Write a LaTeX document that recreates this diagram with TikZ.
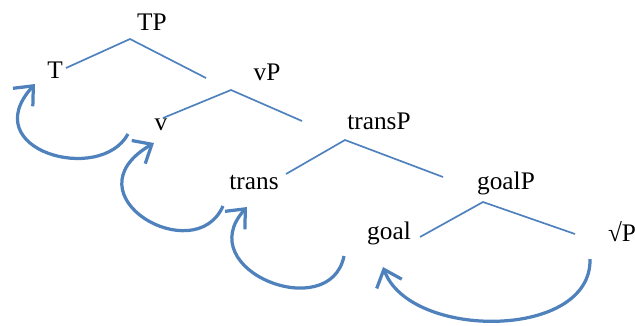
\documentclass[tikz,border=0pt]{standalone}
\usepackage{fontspec}
\setmainfont{Liberation Serif}
\usetikzlibrary{arrows.meta}
\definecolor{treeblue}{RGB}{79,129,189}

\begin{document}
\begin{tikzpicture}[x=0.025cm, y=-0.025cm, >={Straight Barb[length=11pt, width=19pt]},
  every node/.style={font=\fontsize{18}{21}\selectfont, inner sep=0pt},
  branch/.style={color=treeblue, line width=1.2pt},
  move/.style={->, color=treeblue, line width=2.3pt}]

\useasboundingbox (0,0) rectangle (635,325);

% Labels of the tree
\node (TP) at (152,22) {TP};
\node (T) at (55,70) {T};
\node (vP) at (267,72) {vP};
\node (v) at (161,125) {v};
\node (transP) at (379,121) {transP};
\node (trans) at (254,182) {trans};
\node (goalP) at (506,183) {goalP};
\node (goal) at (389,233) {goal};
\node (rootP) at (622,232) {√P};

% Branch points (below each phrase label)
\coordinate (TP-top) at (130,39);
\coordinate (TP-left) at (66,68);
\coordinate (TP-right) at (206,78);
\coordinate (vP-top) at (231,90);
\coordinate (vP-left) at (163,118);
\coordinate (vP-right) at (302,121);
\coordinate (transP-top) at (345,140);
\coordinate (transP-left) at (286,174);
\coordinate (transP-right) at (443,177);
\coordinate (goalP-top) at (483,202);
\coordinate (goalP-left) at (420,237);
\coordinate (goalP-right) at (575,234);

% Tree branches
\draw[branch] (TP-left) -- (TP-top) -- (TP-right);
\draw[branch] (vP-left) -- (vP-top) -- (vP-right);
\draw[branch] (transP-left) -- (transP-top) -- (transP-right);
\draw[branch] (goalP-left) -- (goalP-top) -- (goalP-right);

% Ends of the movement arrows
\coordinate (v-from) at (128,134);
\coordinate (T-to) at (35,84);
\coordinate (trans-from) at (223,206);
\coordinate (v-to) at (154,143);
\coordinate (goal-from) at (344,256);
\coordinate (trans-to) at (247,207);
\coordinate (root-from) at (590,259);
\coordinate (goal-to) at (383,267);

% Movement arrows
\draw[move] (v-from) .. controls (100,185) and (-25,150) .. (T-to);
\draw[move] (trans-from) .. controls (195,270) and (65,195) .. (v-to);
\draw[move] (goal-from) .. controls (330,325) and (190,270) .. (trans-to);
\draw[move] (root-from) .. controls (592,340) and (410,340) .. (goal-to);

\end{tikzpicture}
\end{document}
